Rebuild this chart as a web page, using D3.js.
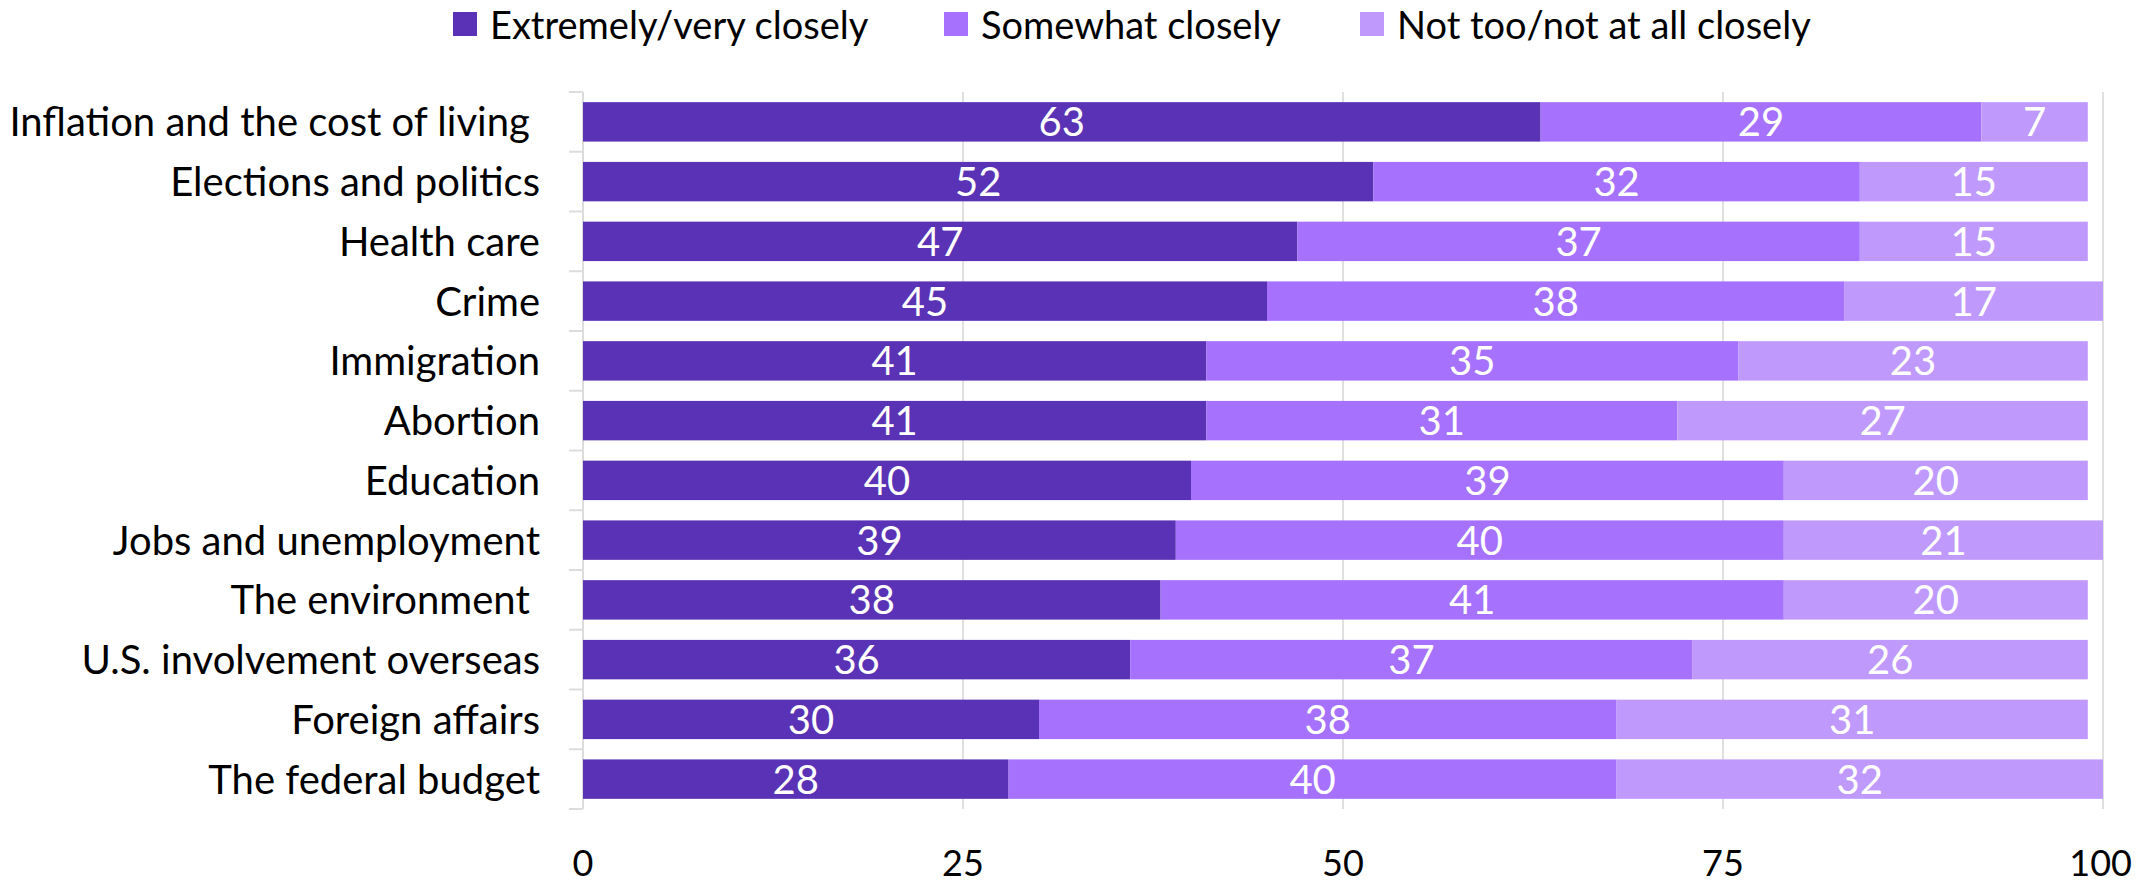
<!DOCTYPE html>
<html>
<head>
<meta charset="utf-8">
<script src="https://cdn.jsdelivr.net/npm/d3@7"></script>
<style>
  body { margin: 0; background: #fff; }
  text { font-family: Lato, "Noto Sans", sans-serif; }
</style>
</head>
<body>
<div id="chart"></div>
<script>
var categories = ["Inflation and the cost of living ", "Elections and politics", "Health care", "Crime",
    "Immigration", "Abortion", "Education", "Jobs and unemployment", "The environment ",
    "U.S. involvement overseas", "Foreign affairs", "The federal budget"];

var seriesNames = ["Extremely/very closely", "Somewhat closely", "Not too/not at all closely"];

var closely = [63, 52, 47, 45, 41, 41, 40, 39, 38, 36, 30, 28];
var somewhat = [29, 32, 37, 38, 35, 31, 39, 40, 41, 37, 38, 40];
var notClosely = [7, 15, 15, 17, 23, 27, 20, 21, 20, 26, 31, 32];

var xTicks = [0, 25, 50, 75, 100];

var colors = ["#5a32b5", "#a571fd", "#bf9afc"];

var width = 2136;
var height = 885;
var margin = {top: 92, right: 33, bottom: 76, left: 583};

var svg = d3.select("#chart")
    .append("svg")
    .attr("width", width)
    .attr("height", height);

var xScale = d3.scaleLinear()
    .domain([0, 100])
    .range([margin.left, width - margin.right]);

var yScale = d3.scaleBand()
    .domain(categories)
    .range([margin.top, height - margin.bottom])
    .paddingInner(0.34)
    .paddingOuter(0.17);

var rows = categories.map(function (c, i) {
    return {cat: c, v0: closely[i], v1: somewhat[i], v2: notClosely[i]};
});
var stack = d3.stack().keys(["v0", "v1", "v2"]);
var layers = stack(rows);

// gridlines
svg.append("g")
    .selectAll("line")
    .data(xTicks.slice(1))
    .enter()
    .append("line")
    .attr("x1", function (d) { return xScale(d); })
    .attr("x2", function (d) { return xScale(d); })
    .attr("y1", margin.top)
    .attr("y2", height - margin.bottom)
    .attr("stroke", "#e0e0e0")
    .attr("stroke-width", 2);

// y axis line + ticks at band edges
var yAxisG = svg.append("g");
yAxisG.append("line")
    .attr("x1", margin.left).attr("x2", margin.left)
    .attr("y1", margin.top).attr("y2", height - margin.bottom)
    .attr("stroke", "#dcdcdc").attr("stroke-width", 2);

var edges = d3.range(categories.length + 1).map(function (i) {
    return margin.top + i * (height - margin.top - margin.bottom) / categories.length;
});
yAxisG.selectAll("line.tick")
    .data(edges)
    .enter()
    .append("line")
    .attr("class", "tick")
    .attr("x1", margin.left - 14).attr("x2", margin.left)
    .attr("y1", function (d) { return d; })
    .attr("y2", function (d) { return d; })
    .attr("stroke", "#dcdcdc").attr("stroke-width", 2);

yAxisG.selectAll("text")
    .data(categories)
    .enter()
    .append("text")
    .attr("x", margin.left - 43)
    .attr("y", function (d) { return yScale(d) + yScale.bandwidth() / 2; })
    .attr("dy", "0.36em")
    .attr("text-anchor", "end")
    .attr("font-size", 40)
    .attr("fill", "#000")
    .style("white-space", "pre")
    .text(function (d) { return d; });

// bars
var layerG = svg.selectAll("g.layer")
    .data(layers)
    .enter()
    .append("g")
    .attr("class", "layer")
    .attr("fill", function (d, i) { return colors[i]; });

layerG.selectAll("rect")
    .data(function (d) { return d; })
    .enter()
    .append("rect")
    .attr("x", function (d) { return xScale(d[0]); })
    .attr("y", function (d) { return yScale(d.data.cat); })
    .attr("width", function (d) { return xScale(d[1]) - xScale(d[0]); })
    .attr("height", yScale.bandwidth());

layerG.selectAll("text")
    .data(function (d) { return d; })
    .enter()
    .append("text")
    .attr("x", function (d) { return (xScale(d[0]) + xScale(d[1])) / 2; })
    .attr("y", function (d) { return yScale(d.data.cat) + yScale.bandwidth() / 2; })
    .attr("dy", "0.36em")
    .attr("text-anchor", "middle")
    .attr("font-size", 40)
    .attr("fill", "#fff")
    .text(function (d) { return d[1] - d[0]; });

// x tick labels
svg.append("g")
    .selectAll("text")
    .data(xTicks)
    .enter()
    .append("text")
    .attr("x", function (d) { return xScale(d); })
    .attr("y", 876)
    .attr("text-anchor", function (d, i) { return i === xTicks.length - 1 ? "end" : "middle"; })
    .attr("dx", function (d, i) { return i === xTicks.length - 1 ? 29 : 0; })
    .attr("font-size", 36)
    .attr("fill", "#000")
    .text(function (d) { return d; });

// legend
var legendX = [453, 944, 1360];
var legend = svg.append("g")
    .selectAll("g")
    .data(seriesNames)
    .enter()
    .append("g")
    .attr("transform", function (d, i) { return "translate(" + legendX[i] + ",12)"; });

legend.append("rect")
    .attr("width", 24)
    .attr("height", 24)
    .attr("fill", function (d, i) { return colors[i]; });

legend.append("text")
    .attr("x", 37)
    .attr("y", 27)
    .attr("font-size", 38)
    .attr("fill", "#000")
    .text(function (d) { return d; });
</script>
</body>
</html>
